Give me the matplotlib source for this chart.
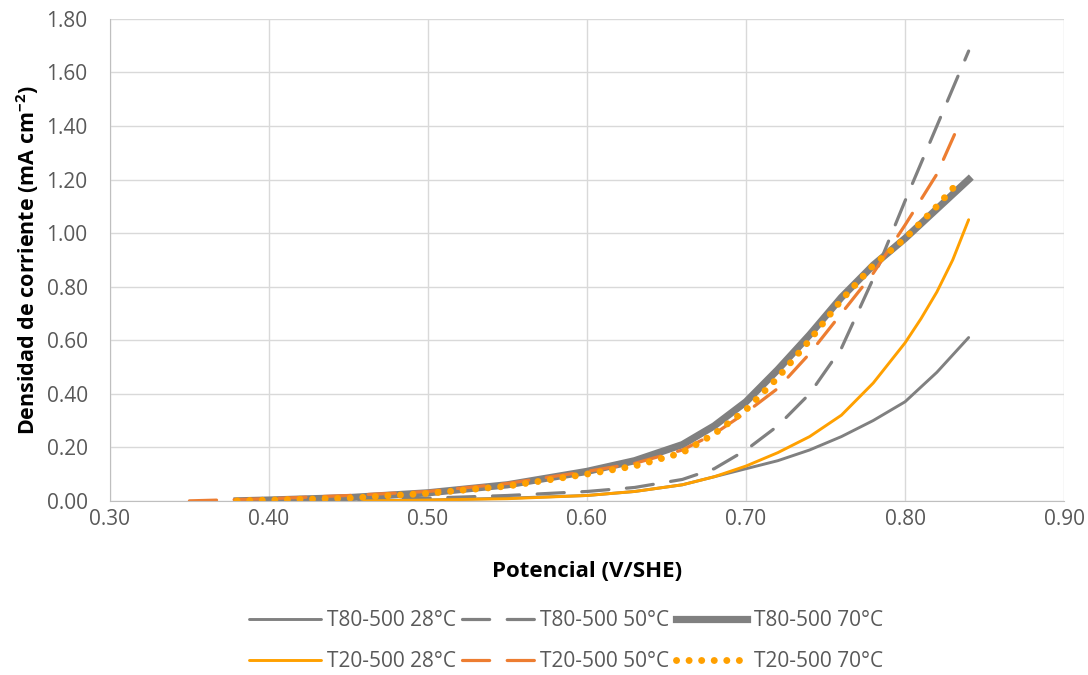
import matplotlib
matplotlib.use("Agg")
import matplotlib.pyplot as plt

plt.rcParams["font.family"] = ["Open Sans", "DejaVu Sans"]
plt.rcParams["mathtext.default"] = "regular"

# T80-500 28°C
x_t80_28 = [0.46, 0.50, 0.55, 0.60, 0.63, 0.66, 0.68, 0.70, 0.72, 0.74, 0.76, 0.78, 0.80, 0.82, 0.84]
y_t80_28 = [0.0, 0.003, 0.01, 0.02, 0.035, 0.06, 0.09, 0.12, 0.15, 0.19, 0.24, 0.30, 0.37, 0.48, 0.61]
# T80-500 50°C
x_t80_50 = [0.40, 0.45, 0.50, 0.55, 0.60, 0.63, 0.66, 0.68, 0.70, 0.72, 0.74, 0.76, 0.78, 0.80, 0.82, 0.84]
y_t80_50 = [0.0, 0.005, 0.01, 0.02, 0.035, 0.05, 0.08, 0.12, 0.19, 0.28, 0.40, 0.57, 0.83, 1.12, 1.40, 1.68]
# T80-500 70°C
x_t80_70 = [0.38, 0.40, 0.45, 0.50, 0.55, 0.60, 0.63, 0.66, 0.68, 0.70, 0.72, 0.74, 0.76, 0.78, 0.80, 0.82, 0.84]
y_t80_70 = [0.0, 0.003, 0.012, 0.03, 0.06, 0.11, 0.15, 0.21, 0.28, 0.37, 0.49, 0.62, 0.76, 0.88, 0.98, 1.09, 1.20]
# T20-500 28°C
x_t20_28 = [0.46, 0.50, 0.55, 0.60, 0.63, 0.66, 0.68, 0.70, 0.72, 0.74, 0.76, 0.78, 0.80, 0.81, 0.82, 0.83, 0.84]
y_t20_28 = [0.0, 0.003, 0.008, 0.02, 0.035, 0.06, 0.09, 0.13, 0.18, 0.24, 0.32, 0.44, 0.59, 0.68, 0.78, 0.90, 1.05]
# T20-500 50°C
x_t20_50 = [0.35, 0.40, 0.45, 0.50, 0.55, 0.60, 0.63, 0.66, 0.68, 0.70, 0.72, 0.74, 0.76, 0.78, 0.80, 0.82, 0.835]
y_t20_50 = [0.0, 0.008, 0.02, 0.035, 0.065, 0.11, 0.14, 0.19, 0.25, 0.33, 0.42, 0.55, 0.70, 0.85, 1.03, 1.22, 1.42]
# T20-500 70°C
x_t20_70 = [0.38, 0.40, 0.45, 0.50, 0.55, 0.60, 0.63, 0.66, 0.68, 0.70, 0.72, 0.74, 0.76, 0.78, 0.80, 0.82, 0.835]
y_t20_70 = [0.0, 0.003, 0.01, 0.028, 0.055, 0.10, 0.13, 0.18, 0.25, 0.34, 0.46, 0.60, 0.75, 0.88, 0.98, 1.10, 1.20]

xticks = [0.30, 0.40, 0.50, 0.60, 0.70, 0.80, 0.90]
yticks = [0.00, 0.20, 0.40, 0.60, 0.80, 1.00, 1.20, 1.40, 1.60, 1.80]

GRAY = "#808080"
ORANGE = "#FFA000"
ORANGE2 = "#ED7D31"
TXT = "#595959"

fig = plt.figure(figsize=(10.88, 6.75), dpi=100)
ax = fig.add_axes([0.101, 0.258, 0.877, 0.714])

dash = (0, (8.5, 5.5))
dots = (0, (0.01, 1.8))
h1, = ax.plot(x_t80_28, y_t80_28, color=GRAY, lw=2.1, solid_capstyle="round",
              label="T80-500 28°C")
h2, = ax.plot(x_t80_50, y_t80_50, color=GRAY, lw=2.3, ls=dash, dash_capstyle="round",
              label="T80-500 50°C")
h3, = ax.plot(x_t80_70, y_t80_70, color=GRAY, lw=5.2, label="T80-500 70°C")
h4, = ax.plot(x_t20_28, y_t20_28, color=ORANGE, lw=2.1, solid_capstyle="round",
              label="T20-500 28°C")
h5, = ax.plot(x_t20_50, y_t20_50, color=ORANGE2, lw=2.3, ls=dash, dash_capstyle="round",
              label="T20-500 50°C")
h6, = ax.plot(x_t20_70, y_t20_70, color=ORANGE, lw=5.0, ls=dots, dash_capstyle="round",
              label="T20-500 70°C")

ax.set_xlim(0.30, 0.90)
ax.set_ylim(0.0, 1.80)
ax.set_xticks(xticks)
ax.set_yticks(yticks)
ax.set_xticklabels([f"{v:.2f}" for v in xticks])
ax.set_yticklabels([f"{v:.2f}" for v in yticks])
ax.tick_params(length=0, labelsize=15, colors=TXT)
ax.tick_params(axis="x", pad=6)
ax.tick_params(axis="y", pad=16)
ax.grid(True, color="#d9d9d9", lw=1)
ax.set_axisbelow(True)
for s in ("top", "right"):
    ax.spines[s].set_visible(False)
for s in ("left", "bottom"):
    ax.spines[s].set_color("#bfbfbf")

ax.set_xlabel("Potencial (V/SHE)", fontsize=16, fontweight="bold", labelpad=22)
ax.set_ylabel("Densidad de corriente (mA cm$^{-2}$)", fontsize=15.5, fontweight="bold",
              labelpad=4)

handles = [h1, h4, h2, h5, h3, h6]
leg = fig.legend(handles=handles, labels=[h.get_label() for h in handles],
                 loc="center", bbox_to_anchor=(0.52, 0.050), ncol=3, frameon=False,
                 fontsize=15, handlelength=3.45, labelspacing=0.95, columnspacing=0.3,
                 handletextpad=0.3)
for t in leg.get_texts():
    t.set_color(TXT)

fig.savefig("out.png", dpi=100)
